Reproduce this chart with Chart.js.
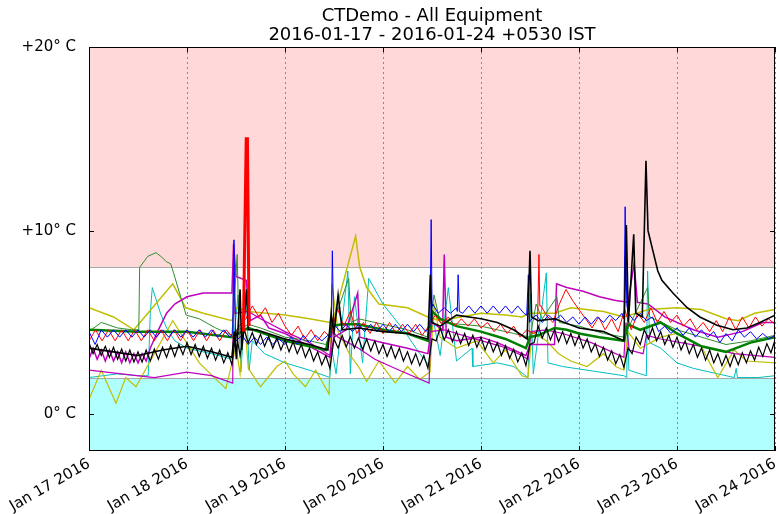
<!DOCTYPE html>
<html>
<head>
<meta charset="utf-8">
<script src="https://cdn.jsdelivr.net/npm/chart.js@4.4.1/dist/chart.umd.min.js"></script>
<style>
html, body { margin: 0; padding: 0; background: #fff; }
</style>
</head>
<body>
<canvas id="chart" width="778" height="514"></canvas>
<script>
// x values are hours since Jan 17 2016 00:00 (+0530 IST)
const xTickLabels = ['Jan 17 2016', 'Jan 18 2016', 'Jan 19 2016', 'Jan 20 2016',
    'Jan 21 2016', 'Jan 22 2016', 'Jan 23 2016', 'Jan 24 2016'];
const yTicks = [0, 10, 20];
const alarmHigh = 8;
const alarmLow = 2;

// sampled every 1.6 h
const redVals = [4.0, 4.6, 4.0, 4.6, 4.0, 4.6, 4.0, 4.6, 4.0, 4.6, 4.0, 4.6, 4.0, 4.6, 4.0, 4.6, 4.0, 4.6, 4.0, 4.6, 4.0, 4.6,
    4.2, 4.8, 5.2, 5.9, 5.3, 5.8, 5.0, 5.5, 4.8, 4.3, 4.8, 4.1, 4.6, 4.0, 4.5, 4.2, 5.8, 4.8, 5.6, 4.4, 5.0, 4.4, 5.0, 4.4,
    5.0, 4.4, 4.9, 4.4, 4.9, 4.3, 4.8, 5.4, 4.9, 5.3, 4.8, 5.2, 4.8, 5.2, 4.7, 5.0, 4.5, 4.9, 4.4, 4.8, 4.2, 4.6, 4.4,
    5.9, 5.4, 5.0, 6.0, 6.8, 6.2, 5.7, 5.2, 4.7, 5.3, 4.6, 5.2, 4.5, 5.7, 4.6, 5.5, 5.0, 5.8, 5.0, 5.6, 5.0, 5.4, 4.8,
    5.2, 4.6, 5.0, 4.5, 5.1, 4.5, 5.3, 4.6, 5.3, 4.7, 5.3, 4.8, 5.2, 4.9];
const redSpikes = [[109.8, 4.5], [110.2, 8.7], [110.7, 5.9]];
const redThick = [[37.8, 4.5], [38.5, 15.0], [38.8, 15.0], [39.2, 4.8]];

// sampled every 1.5 h
const blueVals = [4.5, 3.8, 4.6, 4.2, 4.6, 4.2, 4.6, 4.2, 4.6, 4.2, 4.6, 4.2, 4.6, 4.2, 4.6, 4.2, 4.6, 4.2, 4.6, 4.2, 4.6, 4.2, 4.6, 4.2,
    4.0, 4.3, 3.8, 4.2, 3.8, 4.2, 3.8, 4.1, 3.8, 4.2, 3.8, 4.3, 3.9, 4.3, 4.0, 4.3,
    4.9, 4.5, 4.9, 4.5, 4.9, 4.5, 4.9, 4.5, 4.9, 4.5, 4.9, 4.5, 4.9, 4.5, 4.9, 4.5,
    5.9, 5.5, 5.8, 5.5,
    5.8, 5.5, 5.9, 5.5, 5.9, 5.5, 5.9, 5.5, 5.9, 5.5, 5.9, 5.5,
    5.1, 5.4, 5.0, 5.4, 5.1, 5.4, 5.0, 5.3, 4.9, 5.3, 4.9, 5.3, 5.0, 5.4, 5.1, 5.5,
    5.5, 5.1, 5.5, 5.1, 5.3, 4.5, 4.8, 4.4, 4.7, 4.3, 4.7, 4.2, 4.6, 4.2, 4.5, 3.9, 4.4, 4.0, 4.6, 4.2, 4.5, 4.1, 4.4, 4.1, 4.3];
const blueSpikes = [[35.2, 4.4], [35.5, 9.5], [35.9, 4.0], [59.3, 4.2], [59.6, 8.9], [59.9, 5.0],
    [83.5, 4.8], [83.8, 10.6], [84.2, 6.0], [90.2, 5.6], [90.4, 7.6], [90.7, 5.6],
    [107.2, 5.4], [107.6, 7.6], [107.9, 5.0], [131.0, 5.2], [131.3, 11.3], [131.7, 6.0]];

// sampled every 1 h
const blackZigVals = [3.9, 3.3, 3.8, 3.2, 3.7, 3.1, 3.65, 3.0, 3.55, 2.9, 3.5, 2.85, 3.4, 2.85, 3.5, 2.9, 3.55, 3.0, 3.65, 3.1,
    3.75, 3.15, 3.8, 3.25, 3.9, 3.25, 3.8, 3.15, 3.7, 3.05, 3.6, 2.95, 3.5, 2.8, 3.35, 2.7, 4.5, 3.2, 4.6, 3.9,
    4.45, 3.8, 4.35, 3.7, 4.25, 3.6, 4.15, 3.5, 4.05, 3.4, 3.95, 3.3, 3.8, 3.1, 3.6, 2.9, 3.4, 2.7, 3.2, 2.5,
    4.1, 3.6, 4.3, 3.67, 4.23, 3.6, 4.16, 3.53, 4.1, 3.45, 4.0, 3.3, 3.8, 3.15, 3.7, 3.05, 3.6, 2.9, 3.4, 2.75,
    3.3, 2.65, 3.2, 2.5, 4.1, 4.0, 4.7, 4.05, 4.6, 3.95, 4.5, 3.85, 4.4, 3.75, 4.3, 3.65, 4.2, 3.5, 4.05, 3.4,
    3.9, 3.2, 3.75, 3.05, 3.55, 2.85, 3.35, 2.65, 3.8, 3.9, 4.8, 4.15, 4.7, 4.05, 4.6, 3.95, 4.5, 3.85, 4.4, 3.75,
    4.3, 3.6, 4.1, 3.4, 3.85, 3.15, 3.65, 2.95, 3.45, 2.75, 3.25, 2.55, 3.6, 3.3, 4.2, 3.8, 4.6, 4.1, 4.7, 4.0,
    4.5, 3.8, 4.3, 3.65, 4.2, 3.5, 4.0, 3.3, 3.8, 3.1, 3.6, 2.95, 3.5, 2.8, 3.3, 2.65, 3.2, 2.6, 3.25, 2.7,
    3.35, 2.8, 3.45, 2.95, 3.65, 3.15, 3.85, 3.35, 4.05];

const blackMain = [[0, 3.6], [6, 3.4], [12, 3.2], [18, 3.5], [24, 3.7], [30, 3.4], [35, 3.1], [35.6, 4.5], [36.1, 3.0],
    [37, 6.8], [37.4, 3.5], [38.6, 6.8], [39, 4.6], [41, 4.6], [48, 4.1], [54, 3.8], [58.5, 3.5], [59.3, 5.5], [60, 4.4],
    [61, 6.5], [62, 4.6], [66, 4.7], [72, 4.5], [78, 4.4], [83, 4.1], [83.6, 7.6], [84, 5.0], [86, 4.8], [90, 5.4],
    [96, 5.2], [100, 5.0], [104, 4.6], [107.3, 4.1], [108, 8.9], [108.4, 5.3], [110, 5.1], [114, 5.2], [120, 4.7],
    [126, 4.5], [131, 4.0], [131.6, 10.3], [132.1, 5.0], [133.4, 9.8], [133.9, 5.5], [135.5, 5.3], [136.4, 13.8],
    [136.9, 10.0], [138.1, 8.9], [139.3, 7.8], [140.3, 7.3], [143, 6.6], [146.5, 5.8], [149.6, 5.3], [153.8, 4.85],
    [157.7, 4.6], [161.1, 4.7], [164.3, 5.0], [168, 5.4]];

const cyanPts = [[0, 2.0], [7, 2.2], [12, 2.1], [14.5, 2.1], [15, 5.5], [15.5, 6.9], [17.5, 5.5], [19, 4.7], [21, 4.0],
    [24, 3.6], [30, 3.3], [35, 3.0], [36.5, 6.5], [37.2, 2.3], [38.5, 6.7], [39.2, 2.4], [40, 4.0], [43, 3.3], [48, 2.8],
    [54, 2.4], [59, 2.0], [59.5, 3.5], [60.5, 2.2], [63.4, 7.8], [64, 2.2], [65, 6.4], [67, 2.8], [68.5, 7.4], [72, 6.0],
    [77, 4.6], [81, 3.3], [83.5, 2.6], [84, 5.5], [86, 3.2], [88, 6.9], [90, 2.9], [93.8, 3.6], [94, 2.6], [100, 2.8],
    [104, 2.6], [107.5, 2.0], [108.2, 6.6], [108.8, 2.2], [112, 7.7], [112.4, 2.8], [116, 2.6], [125, 2.3], [131, 2.1],
    [131.7, 2.0], [131.9, 6.0], [132.2, 2.4], [136.5, 2.1], [136.8, 7.8], [137.3, 3.9], [140, 3.6], [144, 2.8],
    [148, 2.5], [154, 2.2], [158, 2.0], [158.5, 2.5], [158.8, 2.0], [164, 2.0], [168, 2.1]];

const greenThin = [[0, 4.5], [3, 5.0], [7, 4.7], [10.5, 4.6], [12.2, 4.6], [12.4, 8.0], [14.4, 8.6], [16.4, 8.8],
    [17.6, 8.6], [19, 8.3], [20, 8.2], [20.7, 7.7], [23.8, 5.4], [27, 5.2], [31, 4.7], [35, 4.3], [36.3, 8.7],
    [36.7, 4.6], [39, 4.9], [42, 4.7], [48, 4.2], [54, 4.0], [58, 3.8], [63.6, 7.4], [64.2, 5.0], [66, 5.2], [72, 4.9],
    [78, 4.6], [83, 4.2], [84.5, 6.5], [86, 5.0], [96, 4.8], [104, 4.4], [108, 4.2], [109.5, 6.0], [111, 5.2],
    [114.6, 6.4], [115.2, 5.0], [120, 4.8], [126, 4.4], [131, 4.2], [136.8, 6.9], [137.3, 5.3], [144, 4.6],
    [150, 4.2], [156, 3.8], [162, 4.0], [168, 4.3]];

const greenThick = [[0, 4.6], [12, 4.5], [24, 4.5], [35, 4.2], [39, 4.7], [48, 4.0], [58, 3.5], [59.5, 4.8], [62, 4.9],
    [66, 4.9], [72, 4.6], [78, 4.4], [83, 4.0], [84, 5.6], [86, 5.2], [90, 4.8], [96, 4.5], [102, 4.1], [107, 3.6],
    [108, 4.2], [110, 4.3], [114, 4.7], [117, 4.6], [120, 4.4], [125, 4.2], [131, 4.0], [132, 4.9], [135, 4.6],
    [140, 5.0], [144, 4.4], [150, 3.7], [156, 3.4], [162, 3.9], [168, 4.2]];

const magentaUpper = [[0, 3.0], [1, 3.6], [2, 3.0], [3, 3.5], [4, 2.9], [5, 3.5], [6, 2.9], [7, 3.4], [8, 2.8], [9, 3.4],
    [10, 2.8], [11, 3.3], [12, 2.8], [13, 3.3], [14, 2.9], [15, 3.6], [17, 4.6], [19, 5.5], [21, 6.0], [24, 6.4],
    [28, 6.6], [35, 6.6], [35.4, 9.3], [36, 7.5], [38.5, 7.3], [39.5, 5.1], [42, 5.4], [44, 4.7], [48, 4.4], [54, 3.7],
    [59, 3.1], [60, 4.2], [63, 4.6], [65.8, 6.6], [66.3, 4.2], [72, 3.9], [78, 3.6], [83, 3.3], [84, 5.0], [86.6, 4.6],
    [87, 8.7], [87.5, 4.2], [90, 4.0], [96, 4.2], [100, 3.9], [104, 3.5], [107, 3.2], [108, 3.8], [114, 3.8],
    [114.5, 7.1], [117, 6.9], [121, 6.7], [125, 6.4], [129, 6.2], [132, 6.1], [133.5, 8.2], [134.3, 6.1], [137, 6.0],
    [141, 5.3], [148, 4.6], [154, 4.2], [160, 4.5], [165, 5.0], [168, 5.0]];

const magentaLow = [[0, 2.4], [8, 2.2], [16, 2.0], [24, 2.3], [30, 2.1], [35.2, 1.7], [35.4, 8.0], [35.8, 5.5],
    [39, 5.6], [42, 5.2], [48, 4.5], [54, 3.9], [59, 3.2], [59.6, 4.5], [61, 4.2], [66, 3.6], [70, 3.0], [76, 2.4],
    [83.3, 1.7], [83.6, 4.5], [87, 4.6], [93, 4.2], [101, 3.7], [106, 3.2], [107.5, 3.0], [108.3, 4.5], [112, 4.6],
    [116, 4.4], [123, 3.9], [131, 3.1], [131.5, 5.0], [132.3, 3.5], [135.7, 3.3], [136.5, 4.3], [140, 4.1], [145, 3.9],
    [150, 3.7], [158, 3.3], [168, 3.1]];

const yellowUpper = [[0, 5.8], [6, 5.3], [11, 4.6], [20.5, 7.1], [23.7, 5.8], [28, 5.5], [35, 5.1], [36, 5.8], [39, 5.6],
    [48, 5.4], [54, 5.2], [59, 5.0], [60, 5.3], [65.3, 9.7], [66.3, 8.0], [68, 6.9], [71, 6.0], [78, 5.8], [83, 5.3],
    [86, 5.1], [91, 5.3], [96, 5.5], [102, 5.4], [106, 5.3], [108, 5.5], [114, 5.5], [118, 5.8], [126, 5.6], [131, 5.3],
    [137, 5.7], [144, 5.8], [150, 5.7], [156, 5.2], [159, 5.1], [163, 5.5], [168, 5.7]];

const yellowLow = [[0, 0.8], [3, 2.4], [6.6, 0.6], [9, 2.0], [11.5, 1.5], [20.5, 5.1], [27, 2.8], [33.5, 1.4], [36, 3.7],
    [37, 2.2], [38, 5.5], [39, 2.5], [42, 1.5], [46, 2.6], [48, 2.9], [50, 2.2], [53, 1.5], [55.5, 2.4], [58.8, 1.1],
    [59.5, 7.1], [61, 4.5], [64, 3.2], [66, 2.6], [68, 1.8], [71, 2.9], [75, 1.7], [78, 2.6], [81, 1.9], [83.5, 2.3],
    [84.5, 6.0], [86, 4.2], [90, 3.6], [95, 4.0], [99, 2.8], [102, 3.5], [106, 2.1], [107.5, 2.0], [108.5, 4.5],
    [112, 4.0], [115, 3.3], [118, 2.9], [122, 2.6], [126, 3.3], [129, 2.6], [131, 2.4], [132, 4.5], [135, 3.6],
    [140, 4.2], [144, 4.4], [150, 3.7], [152, 2.8], [154, 2.0], [158, 3.5], [161, 2.9], [168, 2.8]];

function fromStep(vals, step, extra) {
    const pts = vals.map((v, i) => ({ x: +(i * step).toFixed(2), y: v }));
    (extra || []).forEach(p => pts.push({ x: p[0], y: p[1] }));
    return pts.sort((a, b) => a.x - b.x);
}
function fromPairs(pairs) {
    return pairs.map(p => ({ x: p[0], y: p[1] }));
}

// bottom to top
const series = [
    { data: fromPairs(cyanPts), color: '#00bfbf', width: 1 },
    { data: fromPairs(yellowLow), color: '#bfbf00', width: 1.2 },
    { data: fromPairs(yellowUpper), color: '#bfbf00', width: 1.5 },
    { data: fromPairs(magentaLow), color: '#bf00bf', width: 1.2 },
    { data: fromPairs(magentaUpper), color: '#bf00bf', width: 1.5 },
    { data: fromPairs(greenThin), color: '#2f8f2f', width: 1 },
    { data: fromPairs(greenThick), color: '#008000', width: 2.5 },
    { data: fromStep(redVals, 1.6, redSpikes), color: '#ff0000', width: 1 },
    { data: fromStep(blueVals, 1.5, blueSpikes), color: '#0000ff', width: 1 },
    { data: fromStep(blackZigVals, 1, []), color: '#000000', width: 1.2 },
    { data: fromPairs(blackMain), color: '#000000', width: 1.6 },
    { data: fromPairs(redThick), color: '#ff0000', width: 3 }
];

const font = { family: 'DejaVu Sans', size: 15 };

const bandPlugin = {
    id: 'bands',
    beforeDraw(chart) {
        const { ctx, chartArea: a, scales: { y } } = chart;
        const yHi = Math.round(y.getPixelForValue(alarmHigh)) + 0.5;
        const yLo = Math.round(y.getPixelForValue(alarmLow)) + 0.5;
        ctx.save();
        ctx.fillStyle = '#ffffff';
        ctx.fillRect(0, 0, chart.width, chart.height);
        ctx.fillStyle = '#ffd9d9';
        ctx.fillRect(a.left, a.top, a.width, yHi - a.top);
        ctx.fillStyle = '#b0ffff';
        ctx.fillRect(a.left, yLo, a.width, a.bottom - yLo);
        ctx.strokeStyle = '#a8a8a8';
        ctx.lineWidth = 1;
        ctx.beginPath();
        ctx.moveTo(a.left, yHi); ctx.lineTo(a.right, yHi);
        ctx.moveTo(a.left, yLo); ctx.lineTo(a.right, yLo);
        ctx.stroke();
        ctx.restore();
    },
    afterDatasetsDraw(chart) {
        const { ctx, chartArea: a, scales: { x, y } } = chart;
        ctx.save();
        ctx.strokeStyle = '#000';
        ctx.lineWidth = 1;
        ctx.strokeRect(Math.round(a.left) + 0.5, Math.round(a.top) + 0.5,
            Math.round(a.width) - 1, Math.round(a.height) - 1);
        ctx.beginPath();
        y.ticks.forEach(t => {
            const py = Math.round(y.getPixelForValue(t.value)) + 0.5;
            ctx.moveTo(a.left, py); ctx.lineTo(a.left + 5, py);
            ctx.moveTo(a.right, py); ctx.lineTo(a.right - 5, py);
        });
        x.ticks.forEach(t => {
            const px = Math.round(x.getPixelForValue(t.value)) + 0.5;
            ctx.moveTo(px, a.bottom); ctx.lineTo(px, a.bottom - 5);
            ctx.moveTo(px, a.top); ctx.lineTo(px, a.top + 5);
        });
        ctx.stroke();
        ctx.restore();
    }
};

new Chart(document.getElementById('chart'), {
    type: 'line',
    data: {
        datasets: series.map((s, i) => ({
            data: s.data,
            borderColor: s.color,
            borderWidth: s.width,
            pointRadius: 0,
            tension: 0,
            fill: false,
            order: series.length - i
        }))
    },
    options: {
        responsive: false,
        animation: false,
        devicePixelRatio: 1,
        layout: { padding: { left: 0, right: 3, top: 0, bottom: 0 } },
        plugins: {
            legend: { display: false },
            tooltip: { enabled: false },
            title: {
                display: true,
                fullSize: false,
                text: ['CTDemo - All Equipment', '2016-01-17 - 2016-01-24 +0530 IST'],
                color: '#000',
                font: { family: 'DejaVu Sans', size: 18, weight: 'normal', lineHeight: 1.1 },
                padding: { top: 6, bottom: 1.4 }
            }
        },
        scales: {
            x: {
                type: 'linear',
                min: 0,
                max: 168,
                afterBuildTicks: s => { s.ticks = xTickLabels.map((t, i) => ({ value: i * 24 })); },
                afterFit: s => { s.height = 63; s.paddingRight = 0; s.paddingLeft = 0; },
                ticks: {
                    callback: v => xTickLabels[Math.round(v / 24)],
                    minRotation: 30,
                    maxRotation: 30,
                    autoSkip: false,
                    padding: 4,
                    color: '#000',
                    font: font
                },
                grid: { color: '#8c8c8c', lineWidth: 1, drawTicks: false },
                border: { display: false, dash: [2, 3] }
            },
            y: {
                min: -2,
                max: 20,
                afterBuildTicks: s => { s.ticks = yTicks.map(v => ({ value: v })); },
                afterFit: s => { s.width = 89; },
                ticks: {
                    callback: v => (v > 0 ? '+' : '') + v + '° C',
                    padding: 5,
                    color: '#000',
                    font: font
                },
                grid: { display: false },
                border: { display: false }
            }
        }
    },
    plugins: [bandPlugin]
});
</script>
</body>
</html>
